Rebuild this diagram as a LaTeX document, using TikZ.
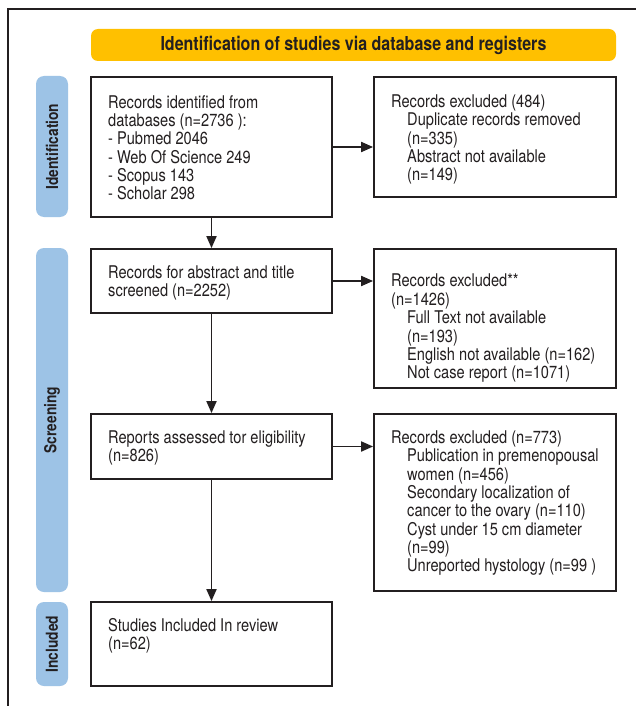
\documentclass[tikz,border=0pt]{standalone}
\usepackage{fontspec}
\setmainfont{TeX Gyre Heros}[FakeStretch=0.835]
\usetikzlibrary{arrows.meta,calc}
\definecolor{ink}{HTML}{231F20}
\definecolor{bannercol}{HTML}{FFC000}
\definecolor{sidecol}{HTML}{9DC3E6}
\begin{document}
\begin{tikzpicture}[x=1pt,y=-1pt,
  box/.style={draw=ink,line width=1.8pt,fill=white,inner sep=0pt},
  sidebox/.style={fill=sidecol,rounded corners=8pt,inner sep=0pt},
  sidelabel/.style={rotate=90,text=ink,font=\fontsize{16.5}{18}\selectfont\bfseries,inner sep=0pt},
  txt/.style={anchor=north west,align=left,inner sep=0pt,text=ink,font=\fontsize{17.5}{18.35}\selectfont},
  arr/.style={draw=ink,line width=1.8pt,-{Triangle[length=12pt,width=10pt]}}
]
\useasboundingbox (0,0) rectangle (635,706);
\fill[white] (0,0) rectangle (635,706);
% outer frame (cropped)
\coordinate (frameTR) at (636,9);
\coordinate (frameTL) at (8,9);
\coordinate (frameBL) at (8,707);
\draw[ink,line width=1.8pt] (frameTR) -- (frameTL) -- (frameBL);

% banner
\node[fill=bannercol,rounded corners=7pt,minimum width=525pt,minimum height=32pt,inner sep=0pt,
      text=ink,font=\fontsize{19.2}{20}\selectfont\bfseries] (banner) at (353.5,45) {Identification of studies via database and registers};

% side boxes
\node[sidebox,minimum width=32pt,minimum height=141pt] (sideId) at (52,146.5) {};
\node[sidelabel] at (sideId.center) {Identification};
\node[sidebox,minimum width=32pt,minimum height=344pt] (sideSc) at (52,420) {};
\node[sidelabel] at (sideSc.center) {Screening};
\node[sidebox,minimum width=32pt,minimum height=84pt] (sideIn) at (52,644) {};
\node[sidelabel] at (sideIn.center) {Included};

% left boxes
\node[box,minimum width=241pt,minimum height=140pt] (b1) at (211.5,147) {};
\node[box,minimum width=241pt,minimum height=64pt] (b2) at (211.5,281) {};
\node[box,minimum width=241pt,minimum height=65pt] (b3) at (211.5,446.5) {};
\node[box,minimum width=241pt,minimum height=84pt] (b4) at (211.5,644) {};

% right boxes
\node[box,minimum width=242pt,minimum height=120pt] (r1) at (495,137) {};
\node[box,minimum width=242pt,minimum height=139pt] (r2) at (495,318.5) {};
\node[box,minimum width=242pt,minimum height=177pt] (r3) at (495,502.5) {};

% texts
\node[txt] (t1) at (108,95) {Records identified from\\databases (n=2736 ):\\- Pubmed 2046\\- Web Of Science 249\\- Scopus 143\\- Scholar 298};
\node[txt] (t2) at (108,265.5) {Records for abstract and title\\screened (n=2252)};
\node[txt] (t3) at (108,430.5) {Reports assessed tor eligibility\\(n=826)};
\node[txt] (t4) at (108,618) {Studies Included In review\\(n=62)};

\node[txt] (s1) at (391,94.5) {Records excluded (484)\\\hspace*{16pt}Duplicate records removed\\\hspace*{16pt}(n=335)\\\hspace*{16pt}Abstract not available\\\hspace*{16pt}(n=149)};
\node[txt] (s2) at (391,274) {Records excluded**\\(n=1426)\\\hspace*{16pt}Full Text not available\\\hspace*{16pt}(n=193)\\\hspace*{16pt}English not available (n=162)\\\hspace*{16pt}Not case report (n=1071)};
\node[txt] (s3) at (391,430.5) {Records excluded (n=773)\\\hspace*{16pt}Publication in premenopousal\\\hspace*{16pt}women (n=456)\\\hspace*{16pt}Secondary localization of\\\hspace*{16pt}cancer to the ovary (n=110)\\\hspace*{16pt}Cyst under 15 cm diameter\\\hspace*{16pt}(n=99)\\\hspace*{16pt}Unreported hystology (n=99 )};

% arrows
\draw[arr] (b1.south) -- (b2.north);
\draw[arr] (b2.south) -- (b3.north);
\draw[arr] (b3.south) -- (b4.north);
\draw[arr] (b1.east) -- (b1.east -| r1.west);
\draw[arr] (b2.east) -- (b2.east -| r2.west);
\draw[arr] (b3.east) -- (b3.east -| r3.west);
\end{tikzpicture}
\end{document}
